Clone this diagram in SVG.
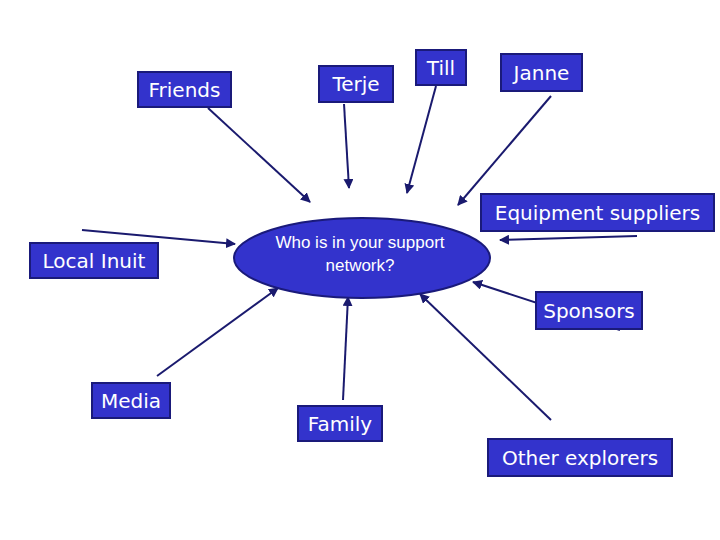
<svg xmlns="http://www.w3.org/2000/svg" width="720" height="540" viewBox="0 0 720 540">
<style>
.b{fill:#3333cc;stroke:#1a1a7a;stroke-width:2}
.t{fill:#fff;font-family:"DejaVu Sans",sans-serif;font-size:20px;text-anchor:middle}
.c line{stroke:#1a1a6e;stroke-width:2;marker-end:url(#a)}
</style>
<defs><marker id="a" viewBox="0 0 10 10" refX="9" refY="5" markerWidth="5" markerHeight="5" orient="auto"><path d="M0,0L10,5L0,10z" fill="#1a1a6e"/></marker></defs>
<rect width="720" height="540" fill="#fff"/>
<g class="c">
<line x1="208" y1="108" x2="310" y2="202"/>
<line x1="344" y1="104" x2="349" y2="188"/>
<line x1="436" y1="86" x2="407" y2="193"/>
<line x1="551" y1="96" x2="458" y2="205"/>
<line x1="637" y1="236" x2="500" y2="240"/>
<line x1="82" y1="230" x2="235" y2="244"/>
<line x1="620" y1="330" x2="473" y2="282"/>
<line x1="157" y1="376" x2="278" y2="288"/>
<line x1="343" y1="400" x2="348" y2="297"/>
<line x1="551" y1="420" x2="420" y2="294"/>
</g>
<g id="center"><ellipse cx="362" cy="258" rx="128" ry="40" fill="#3333cc" stroke="#1a1a7a" stroke-width="2"/>
<text x="360" y="248" fill="#fff" font-family="Liberation Sans,sans-serif" font-size="17" text-anchor="middle">Who is in your support</text>
<text x="360" y="271" fill="#fff" font-family="Liberation Sans,sans-serif" font-size="17" text-anchor="middle">network?</text></g>
<g id="friends"><rect class="b" x="138" y="72" width="93" height="35"/><text class="t" x="184.5" y="97">Friends</text></g>
<g id="terje"><rect class="b" x="319" y="66" width="74" height="36"/><text class="t" x="356" y="91">Terje</text></g>
<g id="till"><rect class="b" x="416" y="50" width="50" height="35"/><text class="t" x="441" y="75">Till</text></g>
<g id="janne"><rect class="b" x="501" y="54" width="81" height="37"/><text class="t" x="541.5" y="80">Janne</text></g>
<g id="equip"><rect class="b" x="481" y="194" width="233" height="37"/><text class="t" x="597.5" y="220">Equipment suppliers</text></g>
<g id="inuit"><rect class="b" x="30" y="243" width="128" height="35"/><text class="t" x="94" y="268">Local Inuit</text></g>
<g id="sponsors"><rect class="b" x="536" y="292" width="106" height="37"/><text class="t" x="589" y="318">Sponsors</text></g>
<g id="media"><rect class="b" x="92" y="383" width="78" height="35"/><text class="t" x="131" y="408">Media</text></g>
<g id="family"><rect class="b" x="298" y="406" width="84" height="35"/><text class="t" x="340" y="431">Family</text></g>
<g id="other"><rect class="b" x="488" y="439" width="184" height="37"/><text class="t" x="580" y="465">Other explorers</text></g>
</svg>
